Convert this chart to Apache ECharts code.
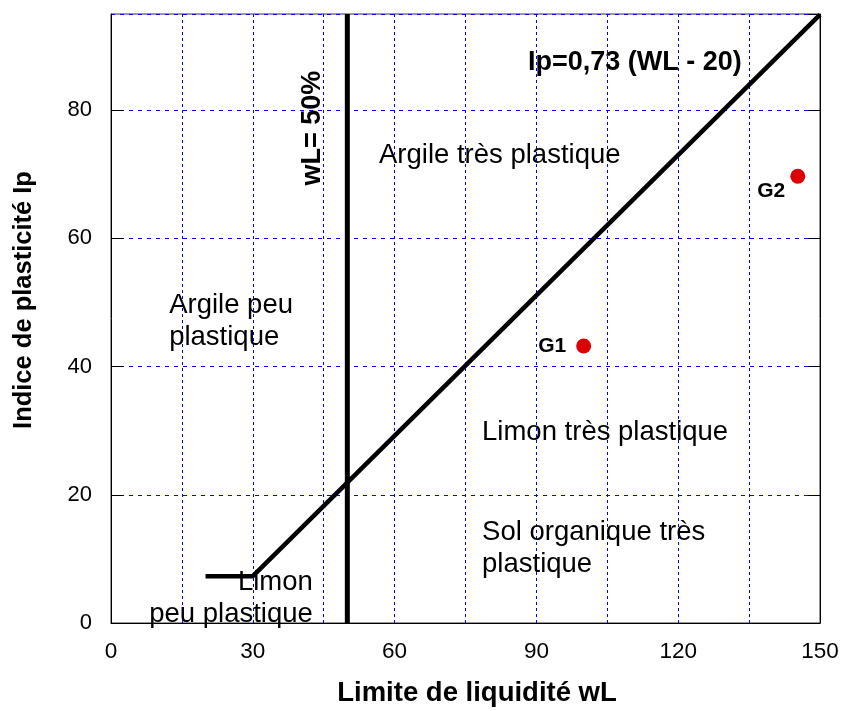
<!DOCTYPE html>
<html>
<head>
<meta charset="utf-8">
<script src="https://cdn.jsdelivr.net/npm/echarts@6/dist/echarts.min.js"></script>
<style>
  html, body { margin: 0; padding: 0; background: #fff; }
  #chart { width: 843px; height: 711px; }
</style>
</head>
<body>
<div id="chart"></div>
<script>
// Ligne A de Casagrande : Ip = 0,73 (WL - 20), palier à Ip = 7,3 entre 20 et 30
const lineAWL = [20, 30, 150]
const lineAIp = [7.3, 7.3, 94.9]
// limite wL = 50 %
const wl50WL = [50, 50]
const wl50Ip = [0, 95]
// échantillons
const sampleNames = ['G1', 'G2']
const sampleWL = [100, 145.3]
const sampleIp = [43.2, 69.7]
// textes des zones
const zoneTexts = ['Argile très plastique', 'Argile peu\nplastique', 'Limon très plastique', 'Sol organique très\nplastique']
const zoneWL = [56.7, 12.3, 78.5, 78.5]
const zoneIp = [73.0, 47.0, 29.7, 11.7]
const xTicks = [0, 30, 60, 90, 120, 150]
const yTicks = [0, 20, 40, 60, 80]

const FONT = 'Liberation Sans, Arial, sans-serif'
const chart = echarts.init(document.getElementById('chart'))

const zip = (xs, ys) => xs.map((x, i) => [x, ys[i]])
const plainText = { color: '#000', fontFamily: FONT, opacity: 1, textBorderWidth: 0 }

const option = {
  animation: false,
  backgroundColor: '#fff',
  grid: { left: 111, right: 23, top: 14, bottom: 88, show: true, borderColor: '#333', borderWidth: 1 },
  xAxis: {
    type: 'value', min: xTicks[0], max: xTicks[xTicks.length - 1], interval: 30,
    axisLine: { show: true, lineStyle: { color: '#000', width: 1 } },
    axisTick: { show: false },
    axisLabel: { color: '#000', fontSize: 22.5, fontFamily: FONT, margin: 17 },
    splitLine: { show: true, lineStyle: { color: '#0000ff', type: [3, 3], width: 1 } },
    minorTick: { show: false, splitNumber: 2 },
    minorSplitLine: { show: true, lineStyle: { color: '#0000ff', type: [3, 3], width: 1 } }
  },
  yAxis: [
    {
      type: 'value', min: yTicks[0], max: 95, interval: 20,
      axisLine: { show: true, lineStyle: { color: '#000', width: 1 } },
      axisTick: { show: true, inside: true, length: 12, lineStyle: { color: '#000' } },
      axisLabel: { color: '#000', fontSize: 22, fontFamily: FONT, margin: 19, showMaxLabel: false },
      splitLine: { show: true, lineStyle: { color: '#0000ff', type: [4, 5], width: 1 } }
    },
    {
      type: 'value', min: yTicks[0], max: 95, interval: 20, position: 'right',
      axisLine: { show: true, lineStyle: { color: '#000', width: 1 } },
      axisTick: { show: true, inside: true, length: 12, lineStyle: { color: '#000' } },
      axisLabel: { show: false },
      splitLine: { show: false }
    }
  ],
  graphic: [
    {
      type: 'text', x: 477, y: 693,
      style: { text: 'Limite de liquidité wL', font: 'bold 27.5px ' + FONT, fill: '#000', align: 'center', verticalAlign: 'middle' }
    },
    {
      type: 'text', x: 24, y: 300, rotation: Math.PI / 2,
      style: { text: 'Indice de plasticité Ip', font: 'bold 25.5px ' + FONT, fill: '#000', align: 'center', verticalAlign: 'middle' }
    }
  ],
  series: [
    {
      type: 'line', data: zip(lineAWL, lineAIp), symbol: 'none',
      lineStyle: { color: '#000', width: 4.5 }, z: 5
    },
    {
      type: 'line', data: zip(wl50WL, wl50Ip), symbol: 'none',
      lineStyle: { color: '#000', width: 5 }, z: 5
    },
    {
      type: 'scatter', symbol: 'circle', symbolSize: 15,
      itemStyle: { color: '#dd0000', opacity: 1 }, z: 6,
      data: sampleNames.map((n, i) => ({
        name: n, value: [sampleWL[i], sampleIp[i]],
        label: i === 0
          ? { show: true, position: 'left', distance: 10 }
          : { show: true, position: 'left', distance: 5, offset: [0, 15] }
      })),
      label: { formatter: '{b}', fontSize: 21, fontWeight: 'bold', ...plainText }
    },
    {
      type: 'scatter', symbolSize: 0, silent: true, z: 7,
      itemStyle: { opacity: 1 },
      data: zoneTexts.map((t, i) => ({ name: t, value: [zoneWL[i], zoneIp[i]] })),
      label: {
        show: true, position: 'right', distance: 0, formatter: '{b}',
        fontSize: 27.5, lineHeight: 32, ...plainText
      }
    },
    {
      type: 'scatter', symbolSize: 0, silent: true, z: 7,
      itemStyle: { opacity: 1 },
      data: [{ name: 'Limon\npeu plastique', value: [42.7, 3.8] }],
      label: {
        show: true, position: 'left', distance: 0, align: 'right', formatter: '{b}',
        fontSize: 27.5, lineHeight: 32, ...plainText
      }
    },
    {
      type: 'scatter', symbolSize: 0, silent: true, z: 7,
      itemStyle: { opacity: 1 },
      data: [{ name: 'Ip=0,73 (WL - 20)', value: [88.2, 87.4] }],
      label: {
        show: true, position: 'right', distance: 0, formatter: '{b}',
        fontSize: 27, fontWeight: 'bold', ...plainText
      }
    },
    {
      type: 'scatter', symbolSize: 0, silent: true, z: 7,
      itemStyle: { opacity: 1 },
      data: [{ name: 'wL= 50%', value: [42.7, 77.2] }],
      label: {
        show: true, position: 'inside', rotate: 90, formatter: '{b}',
        fontSize: 27, fontWeight: 'bold', ...plainText
      }
    }
  ]
}

chart.setOption(option)
</script>
</body>
</html>
